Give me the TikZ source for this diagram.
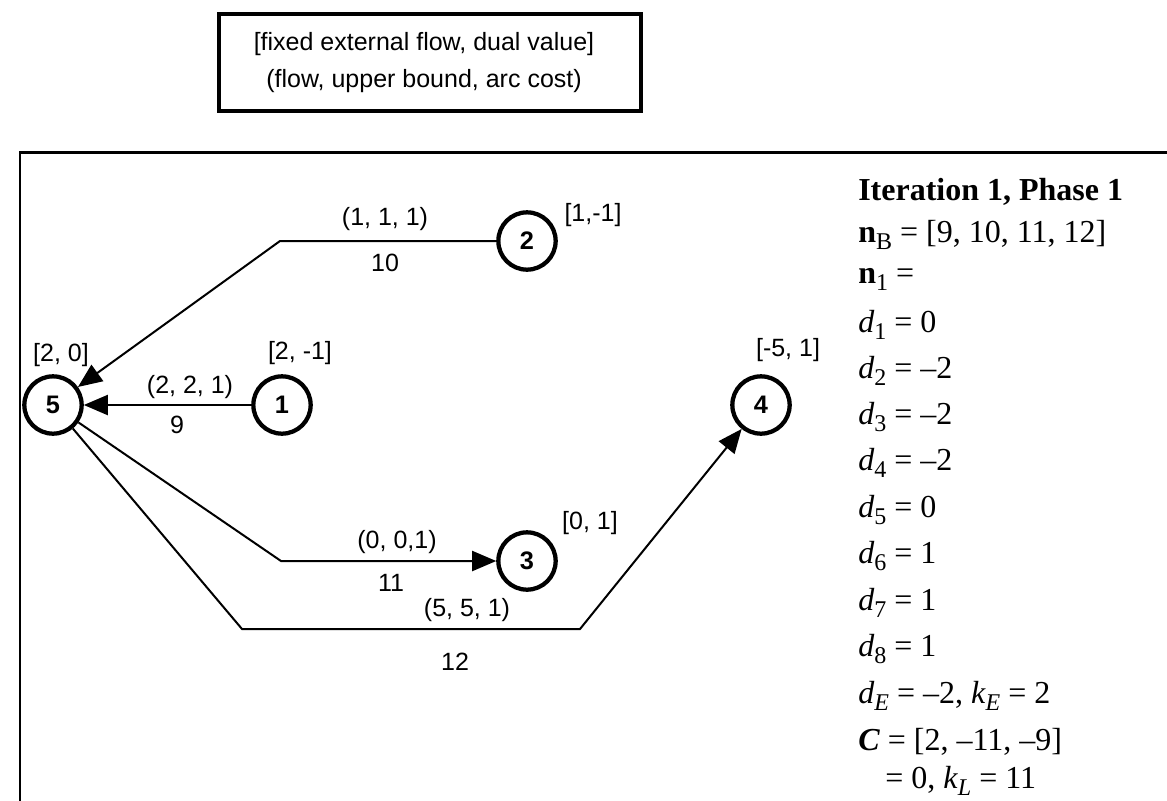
\documentclass[tikz,border=0pt]{standalone}
\usepackage{fontspec}
\setmainfont{Liberation Serif}
\newfontfamily\arialfont{Liberation Sans}
\usetikzlibrary{arrows.meta}
\newcommand\lsub[1]{\raisebox{-5.5pt}{\fontsize{18}{18}\selectfont #1}}
\begin{document}
\begin{tikzpicture}[x=0.75pt,y=-0.75pt,
  netnode/.style={circle,draw,line width=3.2pt,minimum size=43pt,inner sep=0pt,
    font=\arialfont\bfseries\fontsize{19}{19}\selectfont},
  lab/.style={inner sep=0pt,font=\arialfont\fontsize{18.75}{22}\selectfont},
  edge/.style={line width=1.5pt,-{Triangle[length=18pt,width=15pt]}},
  panel/.style={anchor=base west,inner sep=0pt,font=\fontsize{24}{28}\selectfont}]
\useasboundingbox (0,0) rectangle (1167,800);
\clip (0,0) rectangle (1167,800);
% frame
\coordinate (fbl) at (20,810);
\coordinate (ftl) at (20,152.5);
\coordinate (ftr) at (1175,152.5);
\draw[line width=1.9pt] (fbl) -- (ftl) -- (ftr);
% legend
\node[draw,line width=3pt,minimum width=316.5pt,minimum height=72.75pt,inner sep=0pt] (legend) at (430,62.5) {};
\node[lab,anchor=base] (leg1) at (424,50) {[fixed external flow, dual value]};
\node[lab,anchor=base] (leg2) at (424,87) {(flow, upper bound, arc cost)};
% nodes
\node[netnode] (n5) at (53,405) {5};
\node[netnode] (n1) at (282,405) {1};
\node[netnode] (n2) at (527,241) {2};
\node[netnode] (n3) at (527,561) {3};
\node[netnode] (n4) at (761,405) {4};
% node labels
\node[lab] (l5) at (61,355) {[2, 0]};
\node[lab] (l1) at (300,353) {[2, -1]};
\node[lab] (l2) at (593,215) {[1,-1]};
\node[lab] (l3) at (590,523) {[0, 1]};
\node[lab] (l4) at (788,350) {[-5, 1]};
% bend points
\coordinate (c10) at (280,241);
\coordinate (c11) at (281,561);
\coordinate (c12a) at (242,629);
\coordinate (c12b) at (580,629);
% edges
\draw[edge] (n2) -- (c10) -- (n5);
\draw[edge] (n1) -- (n5);
\draw[edge] (n5) -- (c11) -- (n3);
\draw[edge] (n5) -- (c12a) -- (c12b) -- (n4);
% edge labels
\node[lab] (e10a) at (385,219) {(1, 1, 1)};
\node[lab] (e10b) at (385,263) {10};
\node[lab] (e9a) at (190,387) {(2, 2, 1)};
\node[lab] (e9b) at (177,425) {9};
\node[lab] (e11a) at (397,542) {(0, 0,1)};
\node[lab] (e11b) at (391,583) {11};
\node[lab] (e12a) at (467,610) {(5, 5, 1)};
\node[lab] (e12b) at (455,662) {12};
% right panel
\node[panel] (p1) at (858,200) {\textbf{Iteration 1, Phase 1}};
\node[panel] (p2) at (858,242) {\textbf{n}\lsub{B} = [9, 10, 11, 12]};
\node[panel] (p3) at (858,283) {\textbf{n}\lsub{1} =};
\node[panel] (p4) at (858,332) {\textit{d}\lsub{1} = 0};
\node[panel] (p5) at (858,378) {\textit{d}\lsub{2} = –2};
\node[panel] (p6) at (858,424) {\textit{d}\lsub{3} = –2};
\node[panel] (p7) at (858,470) {\textit{d}\lsub{4} = –2};
\node[panel] (p8) at (858,517) {\textit{d}\lsub{5} = 0};
\node[panel] (p9) at (858,563) {\textit{d}\lsub{6} = 1};
\node[panel] (p10) at (858,610) {\textit{d}\lsub{7} = 1};
\node[panel] (p11) at (858,656) {\textit{d}\lsub{8} = 1};
\node[panel] (p12) at (858,703) {\textit{d}\lsub{\textit{E}} = –2, \textit{k}\lsub{\textit{E}} = 2};
\node[panel] (p13) at (858,750) {\textbf{\textit{C}} = [2, –11, –9]};
\node[panel] (p14) at (885,788) {= 0, \textit{k}\lsub{\textit{L}} = 11};
\end{tikzpicture}
\end{document}
